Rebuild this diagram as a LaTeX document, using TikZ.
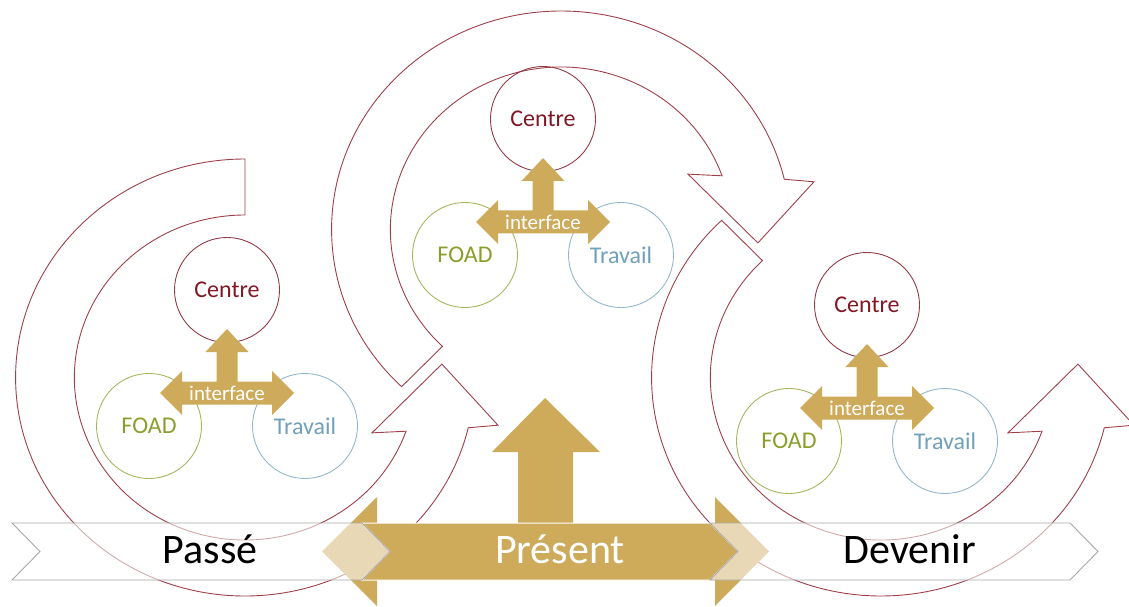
\documentclass[tikz,border=0pt]{standalone}
\usepackage{fontspec}
\setmainfont{Carlito}

\definecolor{gold}{RGB}{206,170,91}
\definecolor{arcred}{RGB}{158,64,74}
\definecolor{centrered}{RGB}{128,24,36}
\definecolor{foadgreen}{RGB}{137,158,43}
\definecolor{travblue}{RGB}{112,160,186}
\definecolor{bandgray}{RGB}{168,168,168}

\newcommand*{\rout}{218.5}
\newcommand*{\rin}{162.5}
% chevron band, left edge #1, right edge #2
\newcommand*{\chevron}[2]{(#1,83) -- (#2,83) -- (#2+28,54.5) -- (#2,26) -- (#1,26) -- (#1+28,54.5) -- cycle}

\begin{document}
\begin{tikzpicture}
[
	x=1pt, y=1pt,
	arcline/.style={draw=arcred,line width=0.9pt},
	band/.style={draw=bandgray,line width=0.9pt,fill=white,fill opacity=0.55},
	presentband/.style={draw=white,line width=1pt,fill=gold},
	bandtext/.style={anchor=base,inner sep=0pt,font=\fontsize{42}{48}\selectfont},
	ring/.style={circle,draw,inner sep=0pt,minimum size=105pt,line width=0.9pt,font=\fontsize{24}{28}\selectfont},
	centre/.style={ring,draw=centrered!85,text=centrered},
	foad/.style={ring,draw=foadgreen!75,text=foadgreen},
	travail/.style={ring,draw=travblue!75,text=travblue},
	ifacetext/.style={text=white,inner sep=0pt,font=\fontsize{21}{24}\selectfont},
	pics/circarrow/.style={code={
		\draw[arcline] (#1:\rout) arc[start angle=#1,end angle=346.7,radius=\rout]
			-- (348.8:245.6) -- (364.1:188) -- (335.4:133) -- (340.7:\rin)
			arc[start angle=340.7,end angle=#1,radius=\rin] -- cycle;
	}}
]
	\useasboundingbox (0,0) rectangle (1129,606);

	% circular arrows
	\pic[xscale=1.05] at (245,228.5) {circarrow=90};
	\pic[xscale=1.05,yscale=-1] at (561,376.5) {circarrow=134};
	\pic[xscale=1.05] at (881,228.5) {circarrow=134};

	% big arrows
	\fill[gold] (518,83) -- (518,154) -- (492,154) -- (545,208) -- (600,154) -- (573,154) -- (573,83) -- cycle;
	\fill[gold] (322,54.5) -- (377,109) -- (377,83) -- (715,83) -- (715,109) -- (769,54.5)
		-- (715,0) -- (715,26) -- (377,26) -- (377,0) -- cycle;

	% time line
	\draw[presentband] \chevron{362}{710};
	\draw[band] \chevron{12}{362};
	\draw[band] \chevron{710}{1070};
	\node[bandtext] (passe) at (210,43) {Passé};
	\node[bandtext,text=white] (present) at (560,43) {Présent};
	\node[bandtext] (devenir) at (910,43) {Devenir};

	% the three poles
	\foreach \g/\cx/\cy in {a/227/316,b/543/487,c/867/301}
	{
		\node[centre] (centre\g) at (\cx,\cy) {Centre};
		\node[foad] (foad\g) at ([shift={(-78,-136)}]centre\g.center) {FOAD};
		\node[travail] (travail\g) at ([shift={(78,-136)}]centre\g.center) {Travail};
		\coordinate (iface\g) at ([yshift=-103pt]centre\g.center);
		\fill[gold] (iface\g) ++(-67,0) -- ++(22,22) -- ++(0,-10.5) -- ++(34.5,0) -- ++(0,29.5)
			-- ++(-11,0) -- ++(21.5,23) -- ++(21.5,-23) -- ++(-11,0) -- ++(0,-29.5) -- ++(34.5,0)
			-- ++(0,10.5) -- ++(22,-22) -- ++(-22,-22) -- ++(0,10.5) -- ++(-90,0) -- ++(0,-10.5) -- cycle;
		\node[ifacetext] (interface\g) at (iface\g) {interface};
	}

\end{tikzpicture}
\end{document}
